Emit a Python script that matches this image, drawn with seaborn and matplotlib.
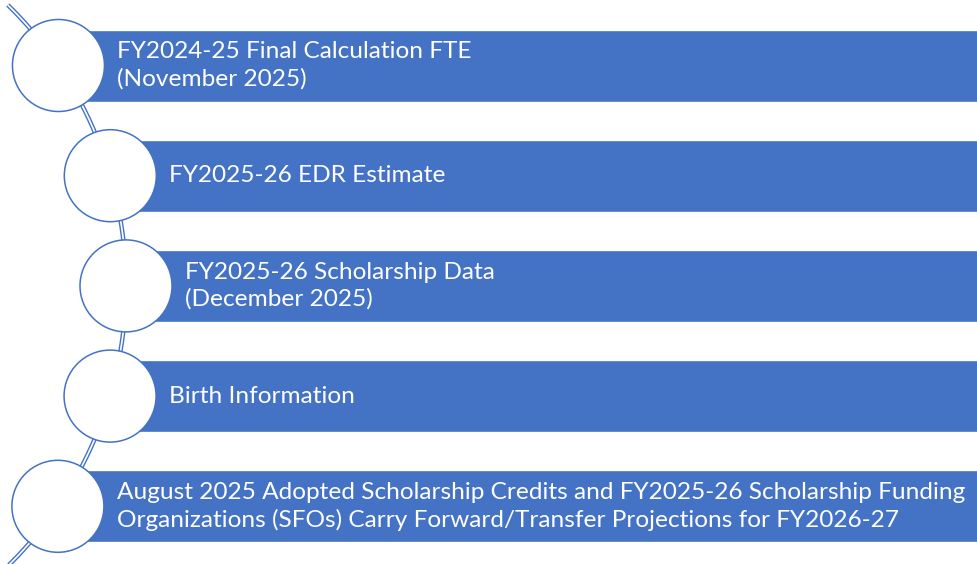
import numpy as np
import seaborn as sns
import matplotlib.pyplot as plt
from matplotlib.patches import Circle

# ------------------ Data ------------------
labels = [
    "FY2024-25 Final Calculation FTE\n(November 2025)",
    "FY2025-26 EDR Estimate",
    "FY2025-26 Scholarship Data\n(December 2025)",
    "Birth Information",
    "August 2025 Adopted Scholarship Credits and FY2025-26 Scholarship Funding\n"
    "Organizations (SFOs) Carry Forward/Transfer Projections for FY2026-27",
]
steps = np.arange(len(labels))

# ------------------ Layout ------------------
W, H = 978, 564
row_gap = 110.2
first_row = 65.5
bar_h = 72
r_circ = 46
# circles sit on one big arc (centre left of figure)
arc_cx, arc_cy, arc_r = -266, 285.5, 392

blue = "#4472C4"

sns.set_theme(style="white")
plt.rcParams["font.family"] = ["Lato", "DejaVu Sans"]

fig = plt.figure(figsize=(W / 100, H / 100), dpi=100)
ax = fig.add_axes([0, 0, 1, 1])
ax.set_xlim(0, W)
ax.set_ylim(H, 0)
ax.axis("off")

ys = first_row + steps * row_gap
xs = arc_cx + np.sqrt(arc_r ** 2 - (ys - arc_cy) ** 2)

# arc connector (double line)
t = np.linspace(-1, 1, 400) * np.arcsin((arc_cy - 5) / arc_r)
arc_x = arc_cx + arc_r * np.cos(t)
arc_y = arc_cy + arc_r * np.sin(t)
ax.plot(arc_x, arc_y, color=blue, lw=3.2, zorder=1, solid_capstyle="butt")
ax.plot(arc_x, arc_y, color="white", lw=1.2, zorder=1.1, solid_capstyle="butt")

# bars
ax.barh(ys, W - xs, left=xs, height=bar_h, color=blue, zorder=2)

# circles + text
for x, y, lab in zip(xs, ys, labels):
    ax.add_patch(Circle((x, y), r_circ, facecolor="white", edgecolor=blue,
                        lw=1.1, zorder=3))
    ax.text(x + 59, y, lab, color="white", fontsize=17.6, va="center",
            ha="left", linespacing=1.33, zorder=4)

fig.savefig("out.png", dpi=100)
